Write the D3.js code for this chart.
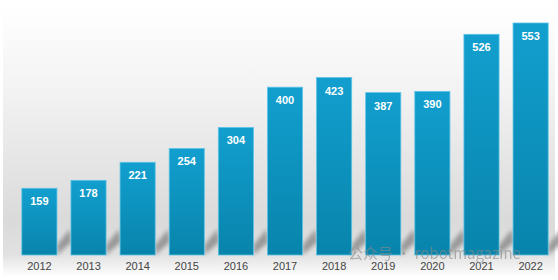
<!DOCTYPE html>
<html lang="en">
<head>
  <meta charset="utf-8">
  <title>Bar chart 2012-2022</title>
  <script src="https://cdn.jsdelivr.net/npm/d3@7"></script>
  <style>
    body { margin: 0; background: #fff; overflow: hidden; }
    .year { font: 11px 'Liberation Sans', Arial, sans-serif; fill: #444; }
    .val { font: bold 11px 'Liberation Sans', Arial, sans-serif; fill: #fff; }
  </style>
</head>
<body>
  <div id="chart"></div>
  <script>
    // data
    const years = ["2012","2013","2014","2015","2016","2017","2018","2019","2020","2021","2022"];
    const values = [159, 178, 221, 254, 304, 400, 423, 387, 390, 526, 553];

    const width = 558, height = 280;
    const baseY = 255;

    const svg = d3.select("#chart").append("svg")
      .attr("width", width).attr("height", height);

    const defs = svg.append("defs");

    // background gradient
    const bg = defs.append("linearGradient").attr("id", "bg")
      .attr("x1", 0).attr("y1", 0).attr("x2", 0).attr("y2", 1);
    bg.append("stop").attr("offset", "0%").attr("stop-color", "#ffffff");
    bg.append("stop").attr("offset", "35%").attr("stop-color", "#f2f2f2");
    bg.append("stop").attr("offset", "85%").attr("stop-color", "#dadada");
    bg.append("stop").attr("offset", "100%").attr("stop-color", "#e2e2e2");

    const barGrad = defs.append("linearGradient").attr("id", "barg")
      .attr("x1", 0).attr("y1", 0).attr("x2", 0).attr("y2", 1);
    barGrad.append("stop").attr("offset", "0%").attr("stop-color", "#129fcf");
    barGrad.append("stop").attr("offset", "100%").attr("stop-color", "#0884ab");

    const blur = defs.append("filter").attr("id", "blur")
      .attr("x", "-30%").attr("y", "-60%").attr("width", "160%").attr("height", "220%");
    blur.append("feGaussianBlur").attr("stdDeviation", 2.2);

    svg.append("rect").attr("x", 3).attr("y", 6).attr("width", width - 6).attr("height", baseY - 2)
      .attr("fill", "url(#bg)");
    // lower band fading to white
    const lowGrad = defs.append("linearGradient").attr("id", "low")
      .attr("x1", 0).attr("y1", 0).attr("x2", 0).attr("y2", 1);
    lowGrad.append("stop").attr("offset", "0%").attr("stop-color", "#e2e2e2");
    lowGrad.append("stop").attr("offset", "100%").attr("stop-color", "#ffffff");
    svg.append("rect").attr("x", 3).attr("y", baseY).attr("width", width - 6).attr("height", 22)
      .attr("fill", "url(#low)");

    const x = d3.scaleBand().domain(years).range([12, 558]).paddingInner(0.285).paddingOuter(0.2);
    const y = d3.scaleLinear().domain([0, 553]).range([baseY, 23]);

    // slanted shadows behind each bar
    svg.append("g").selectAll("path").data(years).join("path")
      .attr("d", d => {
        const x0 = x(d) + x.bandwidth();
        return `M${x0},${baseY} L${x0},${baseY - 10} L${x0 + 13},${baseY - 26} L${x0 + 15},${baseY - 13} Z`;
      })
      .attr("fill", "#8c8c8c").attr("opacity", 0.85).attr("filter", "url(#blur)");

    svg.append("g").selectAll("rect").data(values).join("rect")
      .attr("x", (d, i) => x(years[i]))
      .attr("y", d => y(d))
      .attr("width", x.bandwidth())
      .attr("height", d => baseY - y(d))
      .attr("fill", "url(#barg)")
      .attr("stroke", "#5cc3e6").attr("stroke-width", 0.8);

    svg.append("g").selectAll("text").data(values).join("text")
      .attr("class", "val")
      .attr("x", (d, i) => x(years[i]) + x.bandwidth() / 2)
      .attr("y", d => y(d) + 17)
      .attr("text-anchor", "middle")
      .text(d => d);

    const xAxis = svg.append("g").attr("transform", `translate(0,${baseY})`)
      .call(d3.axisBottom(x).tickSize(0).tickPadding(7));
    xAxis.select(".domain").remove();
    xAxis.selectAll("text").attr("class", "year").attr("fill", null).attr("font-size", null).attr("font-family", null);

    // watermark
    svg.append("text").attr("x", 348).attr("y", 259)
      .attr("font-family", "'Noto Sans CJK SC', sans-serif").attr("font-size", 15)
      .attr("fill", "#8a8a8a").attr("opacity", 0.6)
      .text("公众号 · robotmagazine");
  </script>
</body>
</html>
